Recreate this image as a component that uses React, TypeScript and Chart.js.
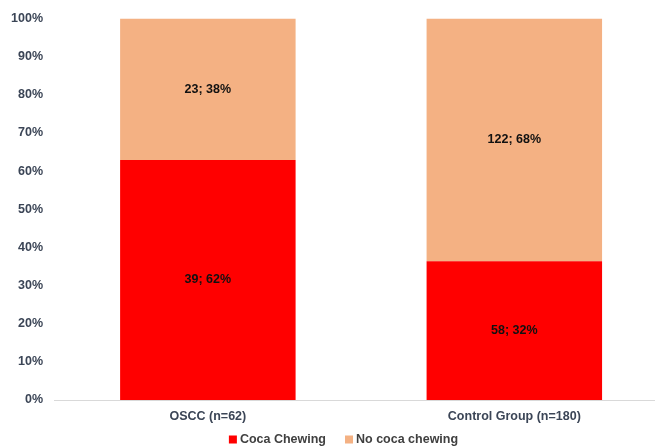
import React, { useEffect, useRef } from "react";
import { Chart, registerables } from "chart.js";

Chart.register(...registerables);

const categories = ["OSCC (n=62)", "Control Group (n=180)"];
const cocaChewing = [62.9, 36.4];
const noCocaChewing = [37.1, 63.6];
const cocaLabels = ["39; 62%", "58; 32%"];
const noCocaLabels = ["23; 38%", "122; 68%"];
const seriesNames = ["Coca Chewing", "No coca chewing"];
const yTicks = [0, 10, 20, 30, 40, 50, 60, 70, 80, 90, 100];

const RED = "#FF0000";
const PEACH = "#F4B183";
const FONT = "Arial, 'Liberation Sans', sans-serif";

const segmentLabels = [cocaLabels, noCocaLabels];

const dataLabelPlugin = {
  id: "segLabels",
  afterDatasetsDraw(chart: any) {
    const ctx = chart.ctx;
    ctx.save();
    ctx.font = `bold 12.5px ${FONT}`;
    ctx.fillStyle = "#111111";
    ctx.textAlign = "center";
    ctx.textBaseline = "middle";
    chart.data.datasets.forEach((ds: any, di: number) => {
      const meta = chart.getDatasetMeta(di);
      meta.data.forEach((el: any, i: number) => {
        const p = el.getProps(["x", "y", "base"], true);
        ctx.fillText(segmentLabels[di][i], p.x, (p.y + p.base) / 2);
      });
    });
    ctx.restore();
  },
};

const legendPlugin = {
  id: "customLegend",
  afterDraw(chart: any) {
    const ctx = chart.ctx;
    ctx.save();
    ctx.font = `bold 12.5px ${FONT}`;
    ctx.textBaseline = "middle";
    ctx.textAlign = "left";
    const box = 8;
    const gap = 3;
    const spacing = 19;
    const widths = seriesNames.map((n) => ctx.measureText(n).width);
    const total = widths.reduce((a, w) => a + box + gap + w, 0) + spacing * (seriesNames.length - 1);
    const centerX = 343.5;
    const cy = 439.5;
    let x = centerX - total / 2;
    const colors = [RED, PEACH];
    seriesNames.forEach((n, i) => {
      ctx.fillStyle = colors[i];
      ctx.fillRect(x, cy - box / 2, box, box);
      x += box + gap;
      ctx.fillStyle = "#404040";
      ctx.fillText(n, x, cy);
      x += widths[i] + spacing;
    });
    ctx.restore();
  },
};

export default function App() {
  const ref = useRef<HTMLCanvasElement>(null);
  useEffect(() => {
    if (!ref.current) return;
    const chart = new Chart(ref.current, {
      type: "bar",
      data: {
        datasets: [
          {
            label: seriesNames[0],
            data: cocaChewing.map((v, i) => ({ x: i, y: v })),
            backgroundColor: RED,
            barPercentage: 0.5726,
            categoryPercentage: 1,
          },
          {
            label: seriesNames[1],
            data: noCocaChewing.map((v, i) => ({ x: i, y: v })),
            backgroundColor: PEACH,
            barPercentage: 0.5726,
            categoryPercentage: 1,
          },
        ],
      },
      options: {
        responsive: false,
        animation: false,
        devicePixelRatio: 1,
        layout: { padding: { top: 15.5, right: 0, left: 0, bottom: 25 } },
        plugins: {
          legend: { display: false },
          tooltip: { enabled: false },
        },
        scales: {
          x: {
            type: "linear",
            stacked: true,
            offset: false,
            min: -0.502,
            max: 1.459,
            grid: { display: false, drawTicks: false },
            border: { display: true, color: "#d9d9d9", width: 1 },
            afterBuildTicks: (scale: any) => {
              scale.ticks = categories.map((_, i) => ({ value: i }));
            },
            afterFit: (scale: any) => {
              scale.height = 23;
            },
            ticks: {
              autoSkip: false,
              maxRotation: 0,
              padding: 9,
              color: "#3b4556",
              font: { family: FONT, size: 12.5, weight: "bold" },
              callback: (v: any) => categories[v as number] ?? "",
            },
          },
          y: {
            stacked: true,
            min: 0,
            max: 100,
            grid: { display: false, drawTicks: false },
            border: { display: false },
            afterFit: (scale: any) => {
              scale.width = 54;
            },
            afterBuildTicks: (scale: any) => {
              scale.ticks = yTicks.map((v) => ({ value: v }));
            },
            ticks: {
              padding: 11,
              color: "#3b4556",
              font: { family: FONT, size: 12.5, weight: "bold" },
              callback: (v: any) => `${v}%`,
            },
          },
        },
      },
      plugins: [dataLabelPlugin, legendPlugin],
    } as any);
    return () => chart.destroy();
  }, []);
  return (
    <div style={{ position: "absolute", left: 0, top: 0, width: 655, height: 448, background: "#fff" }}>
      <canvas ref={ref} width={655} height={448} style={{ display: "block" }} />
    </div>
  );
}
